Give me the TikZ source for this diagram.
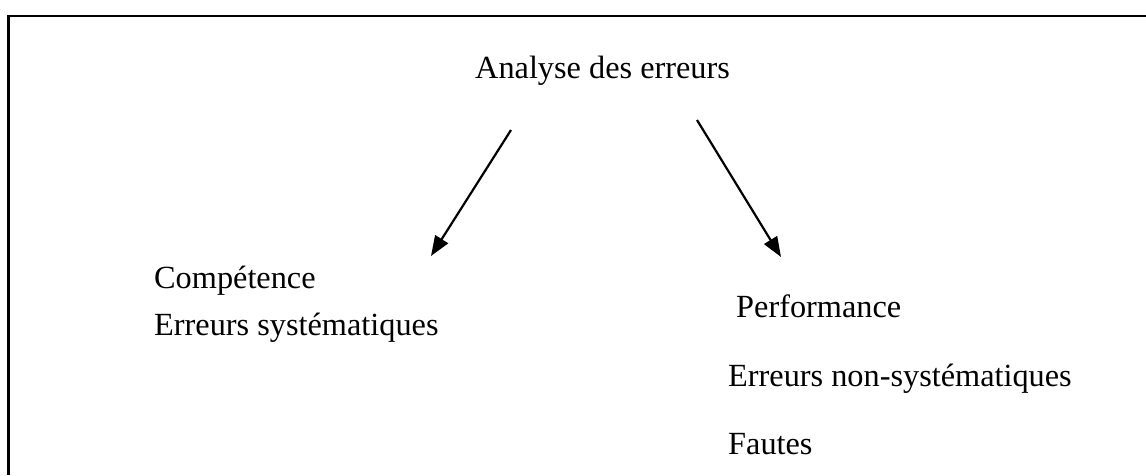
\documentclass[tikz,border=0pt]{standalone}
\usepackage{fontspec}
\setmainfont{Liberation Serif}
\usetikzlibrary{arrows.meta}
\begin{document}
\begin{tikzpicture}[x=1pt,y=-1pt,
  lbl/.style={anchor=base west,inner sep=0pt,font=\fontsize{32.3}{38}\selectfont},
  frameline/.style={line width=2.4pt,black},
  arr/.style={line width=2.2pt,-{Triangle[length=20pt,width=15pt]}}]
\useasboundingbox[fill=white] (0,0) rectangle (1146,475);
\draw[frameline] (1146,16) -- (8.5,16) -- (8.5,475);
\node[lbl] (title) at (475,78) {Analyse des erreurs};
\node[lbl] (comp) at (154,288) {Compétence};
\node[lbl] (errsys) at (154,335) {Erreurs systématiques};
\node[lbl] (perf) at (736,317) {Performance};
\node[lbl] (errnon) at (728,386) {Erreurs non-systématiques};
\node[lbl] (fautes) at (728,454) {Fautes};
\coordinate (l1) at (511,130);
\coordinate (l2) at (431,256);
\coordinate (r1) at (697,120);
\coordinate (r2) at (781,257);
\draw[arr] (l1) -- (l2);
\draw[arr] (r1) -- (r2);
\end{tikzpicture}
\end{document}
